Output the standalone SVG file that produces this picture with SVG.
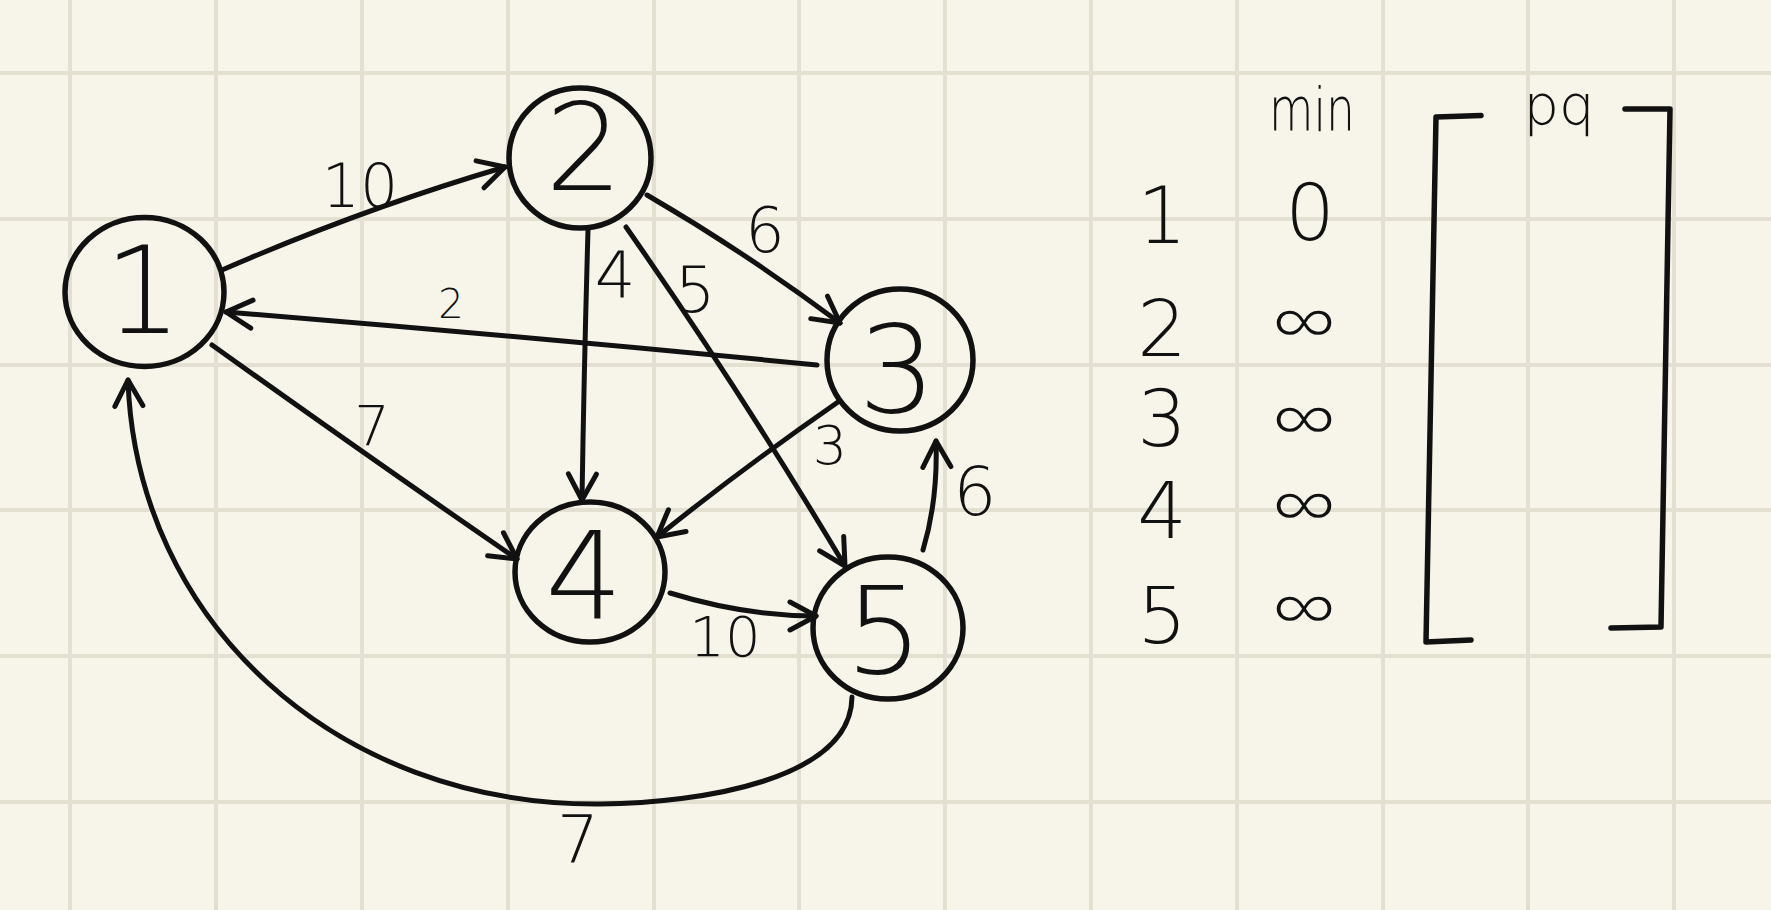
<svg xmlns="http://www.w3.org/2000/svg" width="1771" height="910" viewBox="0 0 1771 910">
<defs>
<style>
.grid{stroke:#e3e0d2;stroke-width:4}
.node ellipse{fill:none;stroke:#111;stroke-width:5.5}
.nl{font-family:"DejaVu Sans","Open Sans",sans-serif;font-weight:200;font-size:122px;fill:#111;text-anchor:middle}
.edge{fill:none;stroke:#111;stroke-width:5;stroke-linecap:round;marker-end:url(#ah)}
.lbl{font-family:"DejaVu Sans","Open Sans",sans-serif;font-weight:200;fill:#111;text-anchor:middle}
.tbl{font-family:"DejaVu Sans","Open Sans",sans-serif;font-weight:200;fill:#111;text-anchor:middle}
.inf{font-family:"DejaVu Sans","Open Sans",sans-serif;font-weight:200;font-size:80px;fill:#111;text-anchor:middle}
.br{fill:none;stroke:#111;stroke-width:5.5;stroke-linecap:round;stroke-linejoin:round}
</style>
<marker id="ah" markerUnits="userSpaceOnUse" markerWidth="60" markerHeight="60" refX="0" refY="0" viewBox="-30 -30 60 60" orient="auto" overflow="visible">
<path d="M-26,-14 L0,0 L-26,14" fill="none" stroke="#111" stroke-width="5" stroke-linecap="round" stroke-linejoin="round"/>
</marker>
</defs>
<rect width="1771" height="910" fill="#f7f5ea"/>
<g id="grid" class="grid">
<line x1="70" y1="0" x2="70" y2="910"/><line x1="216" y1="0" x2="216" y2="910"/><line x1="362" y1="0" x2="362" y2="910"/><line x1="508" y1="0" x2="508" y2="910"/><line x1="654" y1="0" x2="654" y2="910"/><line x1="799" y1="0" x2="799" y2="910"/><line x1="945" y1="0" x2="945" y2="910"/><line x1="1091" y1="0" x2="1091" y2="910"/><line x1="1237" y1="0" x2="1237" y2="910"/><line x1="1383" y1="0" x2="1383" y2="910"/><line x1="1528" y1="0" x2="1528" y2="910"/><line x1="1674" y1="0" x2="1674" y2="910"/>
<line x1="0" y1="73" x2="1771" y2="73"/><line x1="0" y1="219" x2="1771" y2="219"/><line x1="0" y1="365" x2="1771" y2="365"/><line x1="0" y1="510" x2="1771" y2="510"/><line x1="0" y1="656" x2="1771" y2="656"/><line x1="0" y1="802" x2="1771" y2="802"/>
</g>
<g id="connectors">
<path class="edge" d="M222,270 Q365,208 505,167"/>
<path class="edge" d="M647,195 Q745,252 840,323"/>
<path class="edge" d="M817,365 Q520,336 226,312"/>
<path class="edge" d="M588,230 Q584,370 582,500"/>
<path class="edge" d="M626,227 Q740,390 845,566"/>
<path class="edge" d="M212,345 Q380,465 517,559"/>
<path class="edge" d="M838,402 Q740,470 657,537"/>
<path class="edge" d="M670,593 Q745,616 816,616"/>
<path class="edge" d="M923,550 Q938,500 936,441"/>
<path class="edge" d="M852,697 C851,780 700,803 600,804 C335,806 136,620 128,380"/>
<text class="lbl" x="360" y="207" font-size="60">10</text>
<text class="lbl" x="451" y="318" font-size="40">2</text>
<text class="lbl" x="615" y="297" font-size="64">4</text>
<text class="lbl" x="695" y="312" font-size="64">5</text>
<text class="lbl" x="765" y="252" font-size="62">6</text>
<text class="lbl" x="372" y="445" font-size="56">7</text>
<text class="lbl" x="830" y="464" font-size="54">3</text>
<text class="lbl" x="975" y="515" font-size="68">6</text>
<text class="lbl" x="725" y="656" font-size="56">10</text>
<text class="lbl" x="578" y="863" font-size="66">7</text>
</g>
<g id="node1" class="node"><ellipse cx="144.5" cy="292" rx="79.5" ry="74.5"/><text class="nl" x="143" y="333">1</text></g>
<g id="node2" class="node"><ellipse cx="580" cy="158" rx="71" ry="70"/><text class="nl" x="584" y="190">2</text></g>
<g id="node3" class="node"><ellipse cx="900" cy="360" rx="73" ry="71"/><text class="nl" x="897" y="412">3</text></g>
<g id="node4" class="node"><ellipse cx="590" cy="572" rx="75" ry="70"/><text class="nl" x="584" y="618">4</text></g>
<g id="node5" class="node"><ellipse cx="888" cy="628" rx="75" ry="71"/><text class="nl" x="884" y="673">5</text></g>
<g id="table">
<text class="tbl" x="1312" y="131" font-size="60" textLength="86" lengthAdjust="spacingAndGlyphs">min</text>
<text class="tbl" x="1559" y="124" font-size="56">pq</text>
<text class="tbl" x="1162" y="243" font-size="78">1</text>
<text class="tbl" x="1162" y="356" font-size="78">2</text>
<text class="tbl" x="1162" y="446" font-size="78">3</text>
<text class="tbl" x="1162" y="538" font-size="78">4</text>
<text class="tbl" x="1162" y="643" font-size="78">5</text>
<text class="tbl" x="1310" y="240" font-size="78">0</text>
<text class="inf" x="1304" y="351" textLength="64" lengthAdjust="spacingAndGlyphs">∞</text>
<text class="inf" x="1304" y="448" textLength="64" lengthAdjust="spacingAndGlyphs">∞</text>
<text class="inf" x="1304" y="534" textLength="64" lengthAdjust="spacingAndGlyphs">∞</text>
<text class="inf" x="1304" y="637" textLength="64" lengthAdjust="spacingAndGlyphs">∞</text>
<path class="br" d="M1481,115.5 L1436,117 L1426,642 L1471,640"/>
<path class="br" d="M1625,109 L1670,109 L1661,627 L1611,628"/>
</g>
</svg>
